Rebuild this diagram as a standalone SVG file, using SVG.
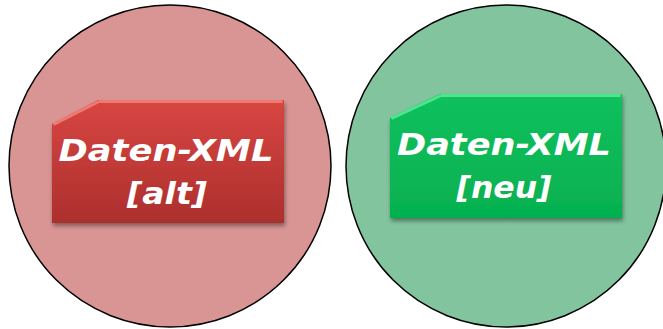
<svg xmlns="http://www.w3.org/2000/svg" width="663" height="329" viewBox="0 0 663 329">
<style>
.circ{stroke:#000;stroke-width:1.5}
.lbl{font-family:"DejaVu Sans",sans-serif;font-weight:bold;font-style:italic;font-size:30px;fill:#fff;text-anchor:middle}
</style>
<defs>
<linearGradient id="gr" x1="0" y1="0" x2="0" y2="1">
<stop offset="0" stop-color="#d84642"/><stop offset="1" stop-color="#ac2f2d"/>
</linearGradient>
<linearGradient id="gg" x1="0" y1="0" x2="0" y2="1">
<stop offset="0" stop-color="#12c05e"/><stop offset="1" stop-color="#05b04f"/>
</linearGradient>
<filter id="sh" x="-10%" y="-10%" width="120%" height="130%">
<feDropShadow dx="1" dy="3" stdDeviation="2" flood-color="#000" flood-opacity="0.4"/>
</filter>
</defs>
<rect width="663" height="329" fill="#fff"/>
<g id="alt">
<ellipse class="circ" cx="170" cy="166" rx="161" ry="161" fill="#d99594"/>
<g filter="url(#sh)">
<path d="M98,100 L284,100 L284,223 L52,223 L52,124 Z" fill="url(#gr)"/>
</g>
<path d="M99,101.5 L282.5,101.5 M53.5,124.5 L99,101.5" stroke="#ef7a74" stroke-width="3" fill="none"/>
<text class="lbl" x="166" y="161" textLength="215" lengthAdjust="spacingAndGlyphs">Daten-XML</text>
<text class="lbl" x="167" y="204" textLength="80" lengthAdjust="spacingAndGlyphs">[alt]</text>
</g>
<g id="neu">
<ellipse class="circ" cx="506" cy="166" rx="160" ry="161" fill="#82c49e"/>
<g filter="url(#sh)">
<path d="M440,94 L622,94 L622,218 L390,218 L390,118 Z" fill="url(#gg)"/>
</g>
<path d="M441,95.5 L620.5,95.5 M391.5,118.5 L441,95.5" stroke="#4ee68c" stroke-width="3" fill="none"/>
<text class="lbl" x="504" y="155" textLength="214" lengthAdjust="spacingAndGlyphs">Daten-XML</text>
<text class="lbl" x="504" y="198" textLength="95" lengthAdjust="spacingAndGlyphs">[neu]</text>
</g>
</svg>
